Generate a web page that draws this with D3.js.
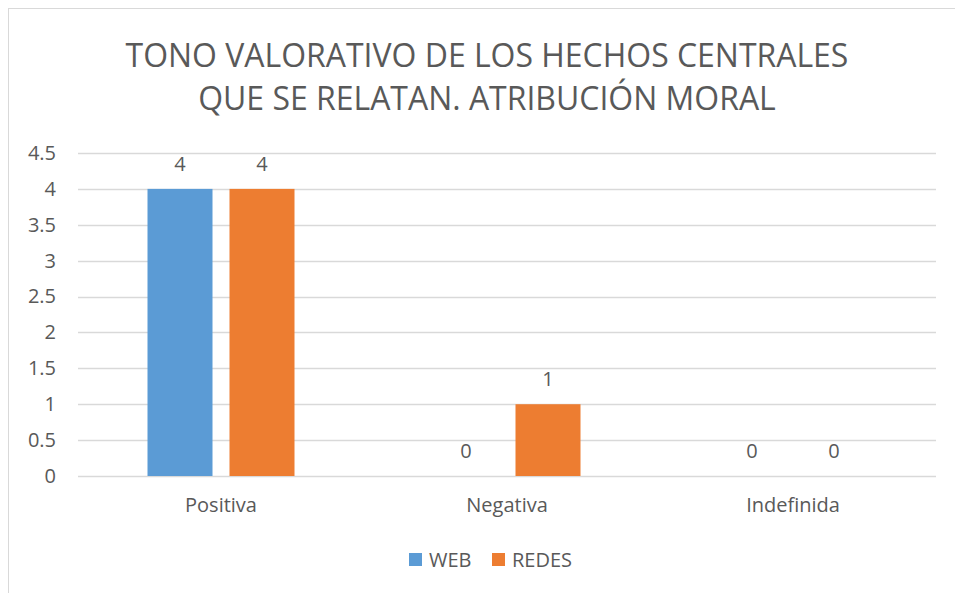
<!DOCTYPE html>
<html><head><meta charset="utf-8">
<script src="https://cdn.jsdelivr.net/npm/d3@7"></script>
<style>body{margin:0;background:#fff}svg{display:block}text{font-family:"Open Sans","Noto Sans",sans-serif;fill:#595959}</style>
</head><body>
<script>
const categories = ["Positiva", "Negativa", "Indefinida"];
const seriesNames = ["WEB", "REDES"];
const webValues = [4, 0, 0];
const redesValues = [4, 1, 0];
const yTicks = [0, 0.5, 1, 1.5, 2, 2.5, 3, 3.5, 4, 4.5];
const titleLines = ["TONO VALORATIVO DE LOS HECHOS CENTRALES", "QUE SE RELATAN. ATRIBUCIÓN MORAL"];
const colors = ["#5B9BD5", "#ED7D31"];

const W = 955, H = 593;
const FS = "20px";
const svg = d3.select("body").append("svg").attr("width", W).attr("height", H);
svg.append("rect").attr("x", 8.5).attr("y", 8.5).attr("width", 1000).attr("height", 1000)
  .attr("fill", "none").attr("stroke", "#d9d9d9").attr("stroke-width", 1);

const m = {left: 78, right: 936, top: 153, bottom: 476};
const x = d3.scaleBand().domain(categories).range([m.left, m.right]);
const y = d3.scaleLinear().domain([0, 4.5]).range([m.bottom, m.top]);
const barW = 65, gap = 17;
const xs = d3.scaleOrdinal().domain(seriesNames).range([-(gap/2 + barW), gap/2]);

// grid
svg.append("g").selectAll("line").data(yTicks).join("line")
  .attr("x1", m.left).attr("x2", m.right)
  .attr("y1", d => Math.round(y(d)) + 0.5).attr("y2", d => Math.round(y(d)) + 0.5)
  .attr("stroke", "#d9d9d9").attr("stroke-width", 1.3);

// y axis labels
const yAxis = d3.axisLeft(y).tickValues(yTicks).tickSize(0).tickPadding(0).tickFormat(d3.format("~g"));
const ya = svg.append("g").attr("transform", `translate(56,0)`).call(yAxis);
ya.select(".domain").remove();
ya.selectAll("text").style("font-size", FS).attr("fill", "#595959").attr("font-family", null);

// x axis labels
const xAxis = d3.axisBottom(x).tickSize(0).tickPadding(0);
const xa = svg.append("g").attr("transform", `translate(0,${m.bottom + 22})`).call(xAxis);
xa.select(".domain").remove();
xa.selectAll("text").style("font-size", FS).attr("fill", "#595959").attr("font-family", null);

const data = [];
categories.forEach((c, i) => {
  data.push({c, s: "WEB", v: webValues[i]});
  data.push({c, s: "REDES", v: redesValues[i]});
});

svg.append("g").selectAll("rect").data(data).join("rect")
  .attr("x", d => x(d.c) + x.bandwidth()/2 + xs(d.s))
  .attr("width", barW)
  .attr("y", d => y(d.v))
  .attr("height", d => y(0) - y(d.v))
  .attr("fill", d => colors[seriesNames.indexOf(d.s)]);

svg.append("g").selectAll("text").data(data).join("text")
  .attr("x", d => x(d.c) + x.bandwidth()/2 + xs(d.s) + barW/2)
  .attr("y", d => y(d.v) - 18)
  .attr("text-anchor", "middle")
  .style("font-size", FS)
  .text(d => d.v);

// title
const tg = svg.append("g");
titleLines.forEach((t, i) => {
  tg.append("text").attr("x", 487).attr("y", 67 + i * 43)
    .attr("text-anchor", "middle").style("font-size", "31px").text(t);
});
const t0 = tg.select("text").node();
const len = t0.getComputedTextLength();
const fs = 31 * 723 / len;
tg.selectAll("text").style("font-size", fs + "px");

// legend
const lg = svg.append("g");
const legX = [409, 492];
seriesNames.forEach((s, i) => {
  lg.append("rect").attr("x", legX[i]).attr("y", 553).attr("width", 13).attr("height", 13).attr("fill", colors[i]);
  lg.append("text").attr("x", legX[i] + 20).attr("y", 567).style("font-size", FS).text(s);
});
</script>
</body></html>
